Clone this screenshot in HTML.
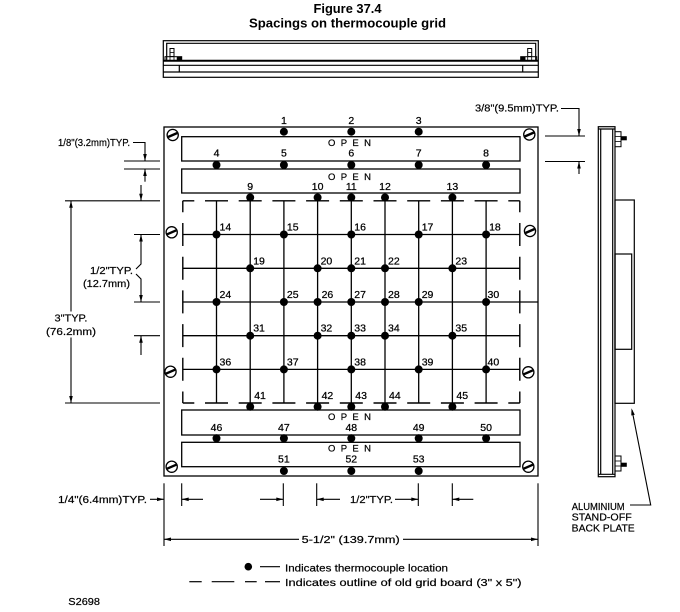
<!DOCTYPE html>
<html>
<head>
<meta charset="utf-8">
<style>
html,body{margin:0;padding:0;background:#fff;}
svg{display:block;}
text{font-family:"Liberation Sans",Arial,sans-serif;fill:#000;}
.n{font-size:10.5px;stroke:#000;stroke-width:0.25;}
.d{font-size:10px;stroke:#000;stroke-width:0.2;}
.o{font-size:9.5px;stroke:#000;stroke-width:0.2;}
</style>
</head>
<body>
<svg width="680" height="612" viewBox="0 0 680 612" xmlns="http://www.w3.org/2000/svg">
<rect width="680" height="612" fill="#fff"/>

<!-- Title -->
<text x="347.5" y="13" font-size="12.5" font-weight="bold" text-anchor="middle" textLength="68" lengthAdjust="spacingAndGlyphs">Figure 37.4</text>
<text x="347.5" y="27.3" font-size="12.5" font-weight="bold" text-anchor="middle" textLength="197" lengthAdjust="spacingAndGlyphs">Spacings on thermocouple grid</text>

<!-- Top view -->
<g fill="none" stroke="#000" stroke-width="1.2">
  <rect x="163.3" y="40.7" width="375" height="36.6"/>
  <path d="M166.7,60.7 V43.3 H535.7 V60.7"/>
  <line x1="163.3" y1="60.7" x2="538.3" y2="60.7" stroke-width="2"/>
  <line x1="163.3" y1="65.3" x2="538.3" y2="65.3"/>
  <line x1="163.3" y1="72" x2="538.3" y2="72"/>
  <line x1="179.3" y1="65.3" x2="179.3" y2="72"/>
  <line x1="522.7" y1="65.3" x2="522.7" y2="72"/>
  <!-- left bolt -->
  <rect x="170" y="48.5" width="4" height="8" stroke-width="1"/>
  <line x1="170" y1="52.5" x2="174" y2="52.5" stroke-width="0.8"/>
  <rect x="165" y="56.7" width="16.7" height="4" stroke-width="1"/>
  <line x1="170" y1="56.7" x2="170" y2="60.7" stroke-width="0.8"/>
  <line x1="174" y1="56.7" x2="174" y2="60.7" stroke-width="0.8"/>
  <rect x="177" y="56.7" width="4.7" height="4" fill="#000" stroke-width="0.5"/>
  <!-- right bolt -->
  <rect x="527.7" y="48.5" width="4" height="8" stroke-width="1"/>
  <line x1="527.7" y1="52.5" x2="531.7" y2="52.5" stroke-width="0.8"/>
  <rect x="520.7" y="56.7" width="16" height="4" stroke-width="1"/>
  <line x1="527.7" y1="56.7" x2="527.7" y2="60.7" stroke-width="0.8"/>
  <line x1="531.7" y1="56.7" x2="531.7" y2="60.7" stroke-width="0.8"/>
  <rect x="520.7" y="56.7" width="4.5" height="4" fill="#000" stroke-width="0.5"/>
</g>

<!-- Main plate -->
<g fill="none" stroke="#000" stroke-width="1.3">
  <rect x="164" y="127" width="374" height="349"/>
  <rect x="181.7" y="136.7" width="338.3" height="24.3"/>
  <rect x="181.7" y="169" width="338.3" height="24"/>
  <rect x="181.7" y="410" width="338.3" height="25"/>
  <rect x="181.7" y="442.3" width="338.3" height="24.4"/>
</g>

<!-- Dashed outline -->
<g fill="none" stroke="#000" stroke-width="1.4" stroke-dasharray="23 10.7" stroke-dashoffset="11.5">
  <line x1="182.8" y1="200.8" x2="519.8" y2="200.8"/>
  <line x1="182.8" y1="403" x2="519.8" y2="403"/>
  <line x1="182.8" y1="200.8" x2="182.8" y2="403"/>
  <line x1="519.8" y1="200.8" x2="519.8" y2="403"/>
</g>

<!-- Grid lines -->
<g stroke="#000" stroke-width="1.3">
  <!-- rows -->
  <line x1="182.8" y1="234.5" x2="519.8" y2="234.5"/>
  <line x1="182.8" y1="268.3" x2="519.8" y2="268.3"/>
  <line x1="182.8" y1="302" x2="538" y2="302"/>
  <line x1="182.8" y1="335.7" x2="519.8" y2="335.7"/>
  <line x1="182.8" y1="369.4" x2="519.8" y2="369.4"/>
  <!-- columns ending at dashed edge -->
  <line x1="216.5" y1="200.8" x2="216.5" y2="403"/>
  <line x1="283.9" y1="200.8" x2="283.9" y2="403"/>
  <line x1="418.7" y1="200.8" x2="418.7" y2="403"/>
  <line x1="486.1" y1="200.8" x2="486.1" y2="403"/>
  <!-- columns extending to dots -->
  <line x1="250.2" y1="197.5" x2="250.2" y2="406.7"/>
  <line x1="317.6" y1="197.5" x2="317.6" y2="406.7"/>
  <line x1="351.3" y1="197.5" x2="351.3" y2="406.7"/>
  <line x1="385" y1="197.5" x2="385" y2="406.7"/>
  <line x1="452.4" y1="197.5" x2="452.4" y2="406.7"/>
</g>

<!-- Dots -->
<g fill="#000">
  <circle cx="283.9" cy="131.7" r="4"/><circle cx="351.3" cy="131.7" r="4"/><circle cx="418.7" cy="131.7" r="4"/>
  <circle cx="216.5" cy="165" r="4"/><circle cx="283.9" cy="165" r="4"/><circle cx="351.3" cy="165" r="4"/><circle cx="418.7" cy="165" r="4"/><circle cx="486.1" cy="165" r="4"/>
  <circle cx="250.2" cy="197.5" r="4"/><circle cx="317.6" cy="197.5" r="4"/><circle cx="351.3" cy="197.5" r="4"/><circle cx="385" cy="197.5" r="4"/><circle cx="452.4" cy="197.5" r="4"/>
  <!-- row 0 -->
  <circle cx="216.5" cy="234.5" r="4"/><circle cx="283.9" cy="234.5" r="4"/><circle cx="351.3" cy="234.5" r="4"/><circle cx="418.7" cy="234.5" r="4"/><circle cx="486.1" cy="234.5" r="4"/>
  <!-- row 1 -->
  <circle cx="250.2" cy="268.3" r="4"/><circle cx="317.6" cy="268.3" r="4"/><circle cx="351.3" cy="268.3" r="4"/><circle cx="385" cy="268.3" r="4"/><circle cx="452.4" cy="268.3" r="4"/>
  <!-- row 2 -->
  <circle cx="216.5" cy="302" r="4"/><circle cx="283.9" cy="302" r="4"/><circle cx="317.6" cy="302" r="4"/><circle cx="351.3" cy="302" r="4"/><circle cx="385" cy="302" r="4"/><circle cx="418.7" cy="302" r="4"/><circle cx="486.1" cy="302" r="4"/>
  <!-- row 3 -->
  <circle cx="250.2" cy="335.7" r="4"/><circle cx="317.6" cy="335.7" r="4"/><circle cx="351.3" cy="335.7" r="4"/><circle cx="385" cy="335.7" r="4"/><circle cx="452.4" cy="335.7" r="4"/>
  <!-- row 4 -->
  <circle cx="216.5" cy="369.4" r="4"/><circle cx="283.9" cy="369.4" r="4"/><circle cx="351.3" cy="369.4" r="4"/><circle cx="418.7" cy="369.4" r="4"/><circle cx="486.1" cy="369.4" r="4"/>
  <!-- bottom -->
  <circle cx="250.2" cy="406.7" r="4"/><circle cx="317.6" cy="406.7" r="4"/><circle cx="351.3" cy="406.7" r="4"/><circle cx="385" cy="406.7" r="4"/><circle cx="452.4" cy="406.7" r="4"/>
  <circle cx="216.5" cy="438.3" r="4"/><circle cx="283.9" cy="438.3" r="4"/><circle cx="351.3" cy="438.3" r="4"/><circle cx="418.7" cy="438.3" r="4"/><circle cx="486.1" cy="438.3" r="4"/>
  <circle cx="283.9" cy="471" r="4"/><circle cx="351.3" cy="471" r="4"/><circle cx="418.7" cy="471" r="4"/>
</g>

<!-- Screws -->
<g stroke="#000" fill="#fff">
  <g transform="translate(172.7,135)"><circle r="5.6" stroke-width="1.3"/><line x1="-4.6" y1="2" x2="4.6" y2="-2" stroke-width="2.4"/></g>
  <g transform="translate(529.3,134.5)"><circle r="5.6" stroke-width="1.3"/><line x1="-4.6" y1="2" x2="4.6" y2="-2" stroke-width="2.4"/></g>
  <g transform="translate(171.7,232.3)"><circle r="5.6" stroke-width="1.3"/><line x1="-4.6" y1="2" x2="4.6" y2="-2" stroke-width="2.4"/></g>
  <g transform="translate(530,231)"><circle r="5.6" stroke-width="1.3"/><line x1="-4.6" y1="2" x2="4.6" y2="-2" stroke-width="2.4"/></g>
  <g transform="translate(170.5,371.7)"><circle r="5.6" stroke-width="1.3"/><line x1="-4.6" y1="2" x2="4.6" y2="-2" stroke-width="2.4"/></g>
  <g transform="translate(528.3,372.3)"><circle r="5.6" stroke-width="1.3"/><line x1="-4.6" y1="2" x2="4.6" y2="-2" stroke-width="2.4"/></g>
  <g transform="translate(171.7,466.7)"><circle r="5.6" stroke-width="1.3"/><line x1="-4.6" y1="2" x2="4.6" y2="-2" stroke-width="2.4"/></g>
  <g transform="translate(528.3,466.7)"><circle r="5.6" stroke-width="1.3"/><line x1="-4.6" y1="2" x2="4.6" y2="-2" stroke-width="2.4"/></g>
</g>

<!-- OPEN labels -->
<text class="o" x="349.5" y="146" text-anchor="middle" textLength="43" lengthAdjust="spacing">OPEN</text>
<text class="o" x="349.5" y="180" text-anchor="middle" textLength="43" lengthAdjust="spacing">OPEN</text>
<text class="o" x="349.5" y="420" text-anchor="middle" textLength="43" lengthAdjust="spacing">OPEN</text>
<text class="o" x="349.5" y="451.7" text-anchor="middle" textLength="43" lengthAdjust="spacing">OPEN</text>

<!-- Number labels: centered -->
<g class="n" text-anchor="middle">
  <text class="n" x="283.9" y="124">1</text><text class="n" x="351.3" y="124">2</text><text class="n" x="418.7" y="124">3</text>
  <text class="n" x="216.5" y="156.5">4</text><text class="n" x="283.9" y="156.5">5</text><text class="n" x="351.3" y="156.5">6</text><text class="n" x="418.7" y="156.5">7</text><text class="n" x="486.1" y="156.5">8</text>
  <text class="n" x="250.2" y="190">9</text><text class="n" x="317.6" y="190">10</text><text class="n" x="351.3" y="190">11</text><text class="n" x="385" y="190">12</text><text class="n" x="452.4" y="190">13</text>
  <text class="n" x="216.5" y="431">46</text><text class="n" x="283.9" y="431">47</text><text class="n" x="351.3" y="431">48</text><text class="n" x="418.7" y="431">49</text><text class="n" x="486.1" y="431">50</text>
  <text class="n" x="283.9" y="462.5">51</text><text class="n" x="351.3" y="462.5">52</text><text class="n" x="418.7" y="462.5">53</text>
</g>
<!-- Number labels: right of dot -->
<g>
  <text class="n" x="219.5" y="230.5">14</text><text class="n" x="286.9" y="230.5">15</text><text class="n" x="354.3" y="230.5">16</text><text class="n" x="421.7" y="230.5">17</text><text class="n" x="489.1" y="230.5">18</text>
  <text class="n" x="253.2" y="264.3">19</text><text class="n" x="320.6" y="264.3">20</text><text class="n" x="354.3" y="264.3">21</text><text class="n" x="388" y="264.3">22</text><text class="n" x="455.4" y="264.3">23</text>
  <text class="n" x="219.5" y="298">24</text><text class="n" x="286.9" y="298">25</text><text class="n" x="321.6" y="298">26</text><text class="n" x="354.3" y="298">27</text><text class="n" x="388" y="298">28</text><text class="n" x="421.7" y="298">29</text><text class="n" x="487.5" y="298">30</text>
  <text class="n" x="253.2" y="331.7">31</text><text class="n" x="320.6" y="331.7">32</text><text class="n" x="354.3" y="331.7">33</text><text class="n" x="388" y="331.7">34</text><text class="n" x="455.4" y="331.7">35</text>
  <text class="n" x="219.5" y="365.4">36</text><text class="n" x="286.9" y="365.4">37</text><text class="n" x="354.3" y="365.4">38</text><text class="n" x="421.7" y="365.4">39</text><text class="n" x="487.5" y="365.4">40</text>
  <text class="n" x="254.2" y="399">41</text><text class="n" x="321.6" y="399">42</text><text class="n" x="355.3" y="399">43</text><text class="n" x="389" y="399">44</text><text class="n" x="456.4" y="399">45</text>
</g>

<!-- Left dimensions -->
<g fill="none" stroke="#000" stroke-width="1.1">
  <path d="M133,142.5 H145 V161"/>
  <line x1="124" y1="161" x2="160" y2="161"/>
  <line x1="124" y1="169" x2="160" y2="169"/>
  <line x1="145" y1="169" x2="145" y2="181.7"/>
  <line x1="141" y1="185" x2="141" y2="200.8"/>
  <line x1="65" y1="200.8" x2="160" y2="200.8"/>
  <line x1="65" y1="403" x2="160" y2="403"/>
  <line x1="71" y1="200.8" x2="71" y2="311.5"/>
  <line x1="71" y1="337.5" x2="71" y2="403"/>
  <line x1="134" y1="234.5" x2="160" y2="234.5"/>
  <line x1="134" y1="302" x2="160" y2="302"/>
  <line x1="134" y1="335.7" x2="160" y2="335.7"/>
  <path d="M141,234.5 V264 L136,269"/>
  <path d="M136,274 L141,279 V302"/>
  <line x1="141" y1="335.7" x2="141" y2="355"/>
</g>
<g fill="#000">
  <polygon points="145,161 143.2,154 146.8,154"/>
  <polygon points="145,169 143.2,176 146.8,176"/>
  <polygon points="141,200.8 139.2,193.8 142.8,193.8"/>
  <polygon points="71,200.8 69.2,207.8 72.8,207.8"/>
  <polygon points="71,403 69.2,396 72.8,396"/>
  <polygon points="141,234.5 139.2,241.5 142.8,241.5"/>
  <polygon points="141,302 139.2,295 142.8,295"/>
  <polygon points="141,335.7 139.2,342.7 142.8,342.7"/>
</g>
<text class="d" x="58" y="146" textLength="72" lengthAdjust="spacingAndGlyphs">1/8"(3.2mm)TYP.</text>
<text class="d" x="71" y="321.7" text-anchor="middle" textLength="33" lengthAdjust="spacingAndGlyphs">3"TYP.</text>
<text class="d" x="71" y="335" text-anchor="middle" textLength="50" lengthAdjust="spacingAndGlyphs">(76.2mm)</text>
<text class="d" x="90" y="274" textLength="43" lengthAdjust="spacingAndGlyphs">1/2"TYP.</text>
<text class="d" x="83" y="287" textLength="47" lengthAdjust="spacingAndGlyphs">(12.7mm)</text>

<!-- Right dimension -->
<g fill="none" stroke="#000" stroke-width="1.1">
  <path d="M561,108.5 H579 V136"/>
  <line x1="545" y1="136" x2="585" y2="136"/>
  <line x1="545" y1="161.5" x2="585" y2="161.5"/>
  <line x1="579" y1="161.5" x2="579" y2="174"/>
</g>
<g fill="#000">
  <polygon points="579,136 577.2,129 580.8,129"/>
  <polygon points="579,161.5 577.2,168.5 580.8,168.5"/>
</g>
<text class="d" x="475" y="111.7" textLength="84" lengthAdjust="spacingAndGlyphs">3/8"(9.5mm)TYP.</text>

<!-- Side view -->
<g fill="none" stroke="#000" stroke-width="1.2">
  <rect x="598.3" y="126.7" width="16.7" height="350"/>
  <line x1="600.7" y1="129" x2="600.7" y2="474.3"/>
  <line x1="612.7" y1="129" x2="612.7" y2="474.3"/>
  <line x1="598.3" y1="129" x2="615" y2="129"/>
  <line x1="598.3" y1="474.3" x2="615" y2="474.3"/>
  <rect x="615" y="200" width="19.3" height="203.3"/>
  <rect x="615" y="254" width="16.7" height="95.3"/>
  <!-- top bolt -->
  <rect x="615" y="131.7" width="6" height="15" stroke-width="1"/>
  <line x1="615" y1="136.5" x2="621" y2="136.5" stroke-width="0.8"/>
  <line x1="615" y1="141.5" x2="621" y2="141.5" stroke-width="0.8"/>
  <rect x="621" y="136.5" width="5.5" height="3.5" fill="#000" stroke-width="0.6"/>
  <!-- bottom bolt -->
  <rect x="615" y="456" width="6" height="15" stroke-width="1"/>
  <line x1="615" y1="461" x2="621" y2="461" stroke-width="0.8"/>
  <line x1="615" y1="466" x2="621" y2="466" stroke-width="0.8"/>
  <rect x="621" y="463" width="5.5" height="3.5" fill="#000" stroke-width="0.6"/>
  <!-- leader -->
  <path d="M630,505 H650.7 L632,410" stroke-width="1.1"/>
</g>
<polygon points="631.5,408.3 631.3,415.5 634.8,414.8" fill="#000"/>
<text class="d" x="571.7" y="510" textLength="53" lengthAdjust="spacingAndGlyphs">ALUMINIUM</text>
<text class="d" x="571.7" y="520.7" textLength="60" lengthAdjust="spacingAndGlyphs">STAND-OFF</text>
<text class="d" x="571.7" y="531.5" textLength="63" lengthAdjust="spacingAndGlyphs">BACK PLATE</text>

<!-- Bottom dimensions -->
<g fill="none" stroke="#000" stroke-width="1.1">
  <line x1="164" y1="483.3" x2="164" y2="546"/>
  <line x1="538" y1="483.3" x2="538" y2="546"/>
  <line x1="181.7" y1="483.3" x2="181.7" y2="506"/>
  <line x1="283.3" y1="483.3" x2="283.3" y2="506"/>
  <line x1="316.7" y1="483.3" x2="316.7" y2="506"/>
  <line x1="418.3" y1="483.3" x2="418.3" y2="506"/>
  <line x1="452.3" y1="483.3" x2="452.3" y2="506"/>
  <line x1="150" y1="499.3" x2="164" y2="499.3"/>
  <line x1="181.7" y1="499.3" x2="203" y2="499.3"/>
  <line x1="260" y1="499.3" x2="283.3" y2="499.3"/>
  <line x1="316.7" y1="499.3" x2="340" y2="499.3"/>
  <line x1="395" y1="499.3" x2="418.3" y2="499.3"/>
  <line x1="452.3" y1="499.3" x2="473.3" y2="499.3"/>
  <line x1="164" y1="539.3" x2="299" y2="539.3"/>
  <line x1="403" y1="539.3" x2="538" y2="539.3"/>
</g>
<g fill="#000">
  <polygon points="164,499.3 157,497.5 157,501.1"/>
  <polygon points="181.7,499.3 188.7,497.5 188.7,501.1"/>
  <polygon points="283.3,499.3 276.3,497.5 276.3,501.1"/>
  <polygon points="316.7,499.3 323.7,497.5 323.7,501.1"/>
  <polygon points="418.3,499.3 411.3,497.5 411.3,501.1"/>
  <polygon points="452.3,499.3 459.3,497.5 459.3,501.1"/>
  <polygon points="164,539.3 171,537.5 171,541.1"/>
  <polygon points="538,539.3 531,537.5 531,541.1"/>
</g>
<text class="d" x="58" y="503" textLength="89" lengthAdjust="spacingAndGlyphs">1/4"(6.4mm)TYP.</text>
<text class="d" x="350" y="503" textLength="43" lengthAdjust="spacingAndGlyphs">1/2"TYP.</text>
<text class="d" x="301.7" y="543" textLength="98" lengthAdjust="spacingAndGlyphs">5-1/2" (139.7mm)</text>

<!-- Legend -->
<circle cx="248.3" cy="566.7" r="3.8" fill="#000"/>
<line x1="260" y1="566.7" x2="280" y2="566.7" stroke="#000" stroke-width="1.2"/>
<text class="d" x="285" y="571.5" textLength="163" lengthAdjust="spacingAndGlyphs">Indicates thermocouple location</text>
<g stroke="#000" stroke-width="1.2">
  <line x1="189.3" y1="581.7" x2="201.7" y2="581.7"/>
  <line x1="211.7" y1="581.7" x2="234.3" y2="581.7"/>
  <line x1="245" y1="581.7" x2="256.7" y2="581.7"/>
  <line x1="265" y1="581.7" x2="280" y2="581.7"/>
</g>
<text class="d" x="285" y="586" textLength="236.5" lengthAdjust="spacingAndGlyphs">Indicates outline of old grid board (3" x 5")</text>
<text class="d" x="68.3" y="605" textLength="31.7" lengthAdjust="spacingAndGlyphs">S2698</text>
</svg>
</body>
</html>
